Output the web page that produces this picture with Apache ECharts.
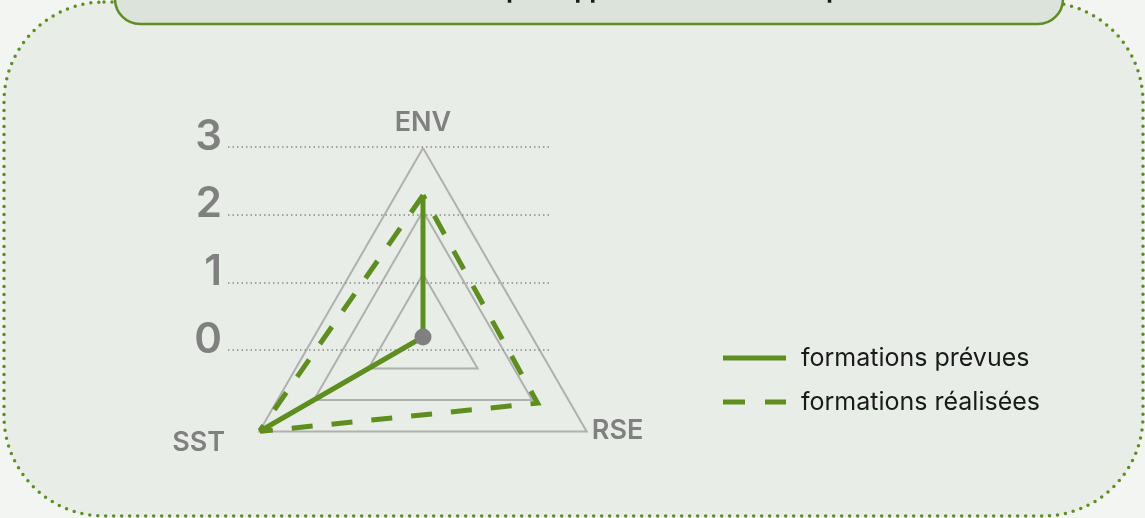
<!DOCTYPE html>
<html><head><meta charset="utf-8">
<script src="https://cdn.jsdelivr.net/npm/echarts@6/dist/echarts.min.js"></script>
<style>html,body{margin:0;padding:0;background:#f3f5f2;}#c{width:1145px;height:518px;}</style>
</head><body><div id="c"></div>
<script>
// ---- data ----
const titleText = 'Formations réalisées par rapport aux formations prévues';
const categories = ['ENV', 'SST', 'RSE'];          // counter-clockwise from the top
const seriesNames = ['formations prévues', 'formations réalisées'];
const prevues = [2.25, 3, 0];                        // ENV, SST, RSE
const realisees = [2.25, 3, 2.1];                    // ENV, SST, RSE
const scaleTicks = ['0', '1', '2', '3'];
const scaleMax = 3;

// ---- helpers ----
const GREEN = '#5e8e1f';
const GREY = '#808080';
const FONT = 'Inter, "Noto Sans", sans-serif';
const step = 360 / categories.length;
const pt = (vals, i) => [vals[i], i * step];
// prévues: ENV -> RSE -> SST (open path)
const prevuesOrder = [0, 2, 1];
const prevuesData = prevuesOrder.map(i => {
  const p = pt(prevues, i);
  if (prevues[i] === 0) {
    return { value: p, symbol: 'circle', symbolSize: 17, itemStyle: { color: GREY } };
  }
  return { value: p };
});
// réalisées: closed path
const realiseesData = [0, 1, 2].map(i => pt(realisees, i));
realiseesData.push([realisees[0], 360]);

const chart = echarts.init(document.getElementById('c'), null, { renderer: 'canvas' });
const center = [423, 337];
const R = 189;
const nameRich = {
  ENV: { padding: [0, 0, 6, 0] },
  SST: { padding: [16, 29, 0, 0] },
  RSE: { padding: [0, 0, 7, 0] }
};
chart.setOption({
  backgroundColor: '#f3f5f2',
  animation: false,
  graphic: [
    { type: 'rect', z: -10, shape: { x: 4, y: 2, width: 1139, height: 514, r: 100 },
      style: { fill: '#e8ede7', stroke: GREEN, lineWidth: 3.5, lineDash: [0, 8], lineCap: 'round' } },
    { type: 'rect', z: -5, shape: { x: 115, y: -60, width: 948, height: 84, r: 25 },
      style: { fill: '#dce3da', stroke: GREEN, lineWidth: 2.5 } },
    { type: 'text', z: -4, x: 589, y: 3,
      style: { text: titleText, fill: '#1a1a1a', font: 'bold 24px ' + FONT, textAlign: 'center', textVerticalAlign: 'bottom' } }
  ],
  grid: { left: 228, right: 595, top: 147, bottom: 168, show: false },
  xAxis: { type: 'value', show: false, min: 0, max: 1 },
  yAxis: {
    type: 'value', min: 0, max: scaleMax, interval: 1,
    axisLine: { show: false }, axisTick: { show: false },
    axisLabel: { margin: 6, color: GREY, fontSize: 42, fontWeight: 600, fontFamily: FONT,
      verticalAlign: 'bottom', lineHeight: 20,
      formatter: v => scaleTicks[v] },
    splitLine: { lineStyle: { type: [1.5, 3], color: '#8a8a8a', width: 1.5 } }
  },
  radar: {
    center: center, radius: R, startAngle: 90, shape: 'polygon', splitNumber: 3,
    indicator: categories.map(n => ({ name: n, min: 0, max: scaleMax })),
    axisNameGap: 6,
    axisName: {
      color: GREY, fontSize: 27, fontWeight: 600, fontFamily: FONT,
      formatter: n => '{' + n + '|' + n + '}',
      rich: nameRich
    },
    axisLine: { show: false }, axisTick: { show: false }, axisLabel: { show: false },
    splitArea: { show: false },
    splitLine: { lineStyle: { color: '#b0b0b0', width: 2 } }
  },
  polar: { center: center, radius: [0, R] },
  angleAxis: { type: 'value', min: 0, max: 360, startAngle: 90, clockwise: false,
    axisLine: { show: false }, axisTick: { show: false }, axisLabel: { show: false }, splitLine: { show: false } },
  radiusAxis: { type: 'value', min: 0, max: scaleMax,
    axisLine: { show: false }, axisTick: { show: false }, axisLabel: { show: false }, splitLine: { show: false } },
  legend: {
    orient: 'vertical', left: 718, top: 339, itemWidth: 63, itemHeight: 5, itemGap: 16,
    data: [
      { name: seriesNames[0], icon: 'rect' },
      { name: seriesNames[1], icon: 'path://M0,0H22V5H0Z M42,0H63V5H42Z' }
    ],
    formatter: n => '{a|' + n + '}',
    textStyle: { color: '#1a1a1a', fontSize: 25, fontFamily: FONT, lineHeight: 28,
      rich: { a: { padding: [0, 0, 0, 10], fontSize: 25, lineHeight: 28, fontFamily: FONT, color: '#1a1a1a' } } }
  },
  series: [
    { name: seriesNames[0], type: 'line', coordinateSystem: 'polar', data: prevuesData,
      symbol: 'none', color: GREEN, z: 3,
      lineStyle: { color: GREEN, width: 5, join: 'miter', miterLimit: 10 } },
    { name: seriesNames[1], type: 'line', coordinateSystem: 'polar', data: realiseesData,
      symbol: 'none', color: GREEN, z: 2,
      lineStyle: { color: GREEN, width: 5, type: [21, 19], join: 'miter', miterLimit: 10 } }
  ]
});
</script></body></html>
